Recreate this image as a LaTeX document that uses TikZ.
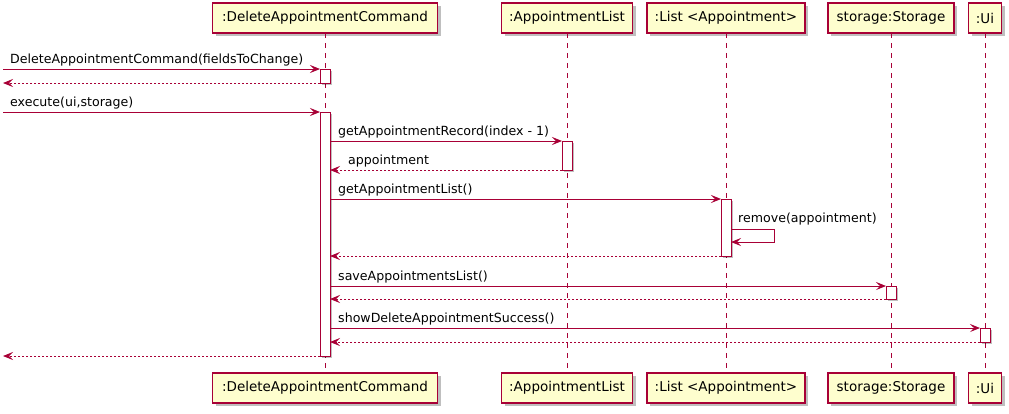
\documentclass[tikz,border=0pt]{standalone}
\usepackage{fontspec}
\setmainfont{DejaVu Sans}
\usetikzlibrary{arrows.meta,shadows}
\definecolor{umlred}{HTML}{A80036}
\definecolor{umlfill}{HTML}{FEFECE}
\begin{document}
\begin{tikzpicture}[x=1pt,y=-1pt,
 part/.style={draw=umlred,fill=umlfill,line width=1.2pt,minimum height=30pt,inner sep=0pt,outer sep=0pt,
   font=\fontsize{13.5}{16}\selectfont,
   drop shadow={shadow xshift=3pt,shadow yshift=-3pt,opacity=0.25,fill=black}},
 act/.style={draw=umlred,fill=white,line width=1pt,minimum width=10pt,inner sep=0pt,outer sep=0pt,
   drop shadow={shadow xshift=2pt,shadow yshift=-2pt,opacity=0.25,fill=black}},
 lifeline/.style={draw=umlred,line width=0.8pt,dash pattern=on 5pt off 5pt},
 msg/.style={draw=umlred,line width=0.9pt,-{Stealth[length=10pt,width=8pt,inset=4pt]}},
 ret/.style={msg,dash pattern=on 2pt off 2pt},
 lbl/.style={anchor=base west,inner sep=0pt,font=\fontsize{12.6}{15}\selectfont}]
\useasboundingbox (0,0) rectangle (1009,413);

% participants top
\node[part,minimum width=225pt] (p1) at (325,18) {:DeleteAppointmentCommand};
\node[part,minimum width=131pt] (p2) at (567,18) {:AppointmentList};
\node[part,minimum width=158pt] (p3) at (726,18) {:List <Appointment>};
\node[part,minimum width=126pt] (p4) at (891,18) {storage:Storage};
\node[part,minimum width=33pt]  (p5) at (985,18) {:Ui};
% participants bottom
\node[part,minimum width=225pt] (q1) at (325,388) {:DeleteAppointmentCommand};
\node[part,minimum width=131pt] (q2) at (567,388) {:AppointmentList};
\node[part,minimum width=158pt] (q3) at (726,388) {:List <Appointment>};
\node[part,minimum width=126pt] (q4) at (891,388) {storage:Storage};
\node[part,minimum width=33pt]  (q5) at (985,388) {:Ui};
% lifelines
\foreach \i in {1,...,5} \draw[lifeline] (p\i.south) -- (q\i.north);

% activations
\node[act,minimum height=14pt]  (a1) at (325,76) {};
\node[act,minimum height=244pt] (a2) at (325,234) {};
\node[act,minimum height=29pt]  (a3) at (567,155.5) {};
\node[act,minimum height=57pt]  (a4) at (726,227.5) {};
\node[act,minimum height=13pt]  (a5) at (891,292.5) {};
\node[act,minimum height=14pt]  (a6) at (985,335) {};

% free ends on the left
\coordinate (L1) at (3,69);
\coordinate (L2) at (3,83);
\coordinate (L3) at (3,112);
\coordinate (L4) at (3,356);
% self-message levels
\coordinate (y1) at (0,229);
\coordinate (y2) at (0,242);
\coordinate (sr) at (774,0);

% messages
\draw[msg] (L1) -- (a1.north west);
\node[lbl] at (10,63) {DeleteAppointmentCommand(fieldsToChange)};
\draw[ret] (a1.south west) -- (L2);
\draw[msg] (L3) -- (a2.north west);
\node[lbl] at (10,106) {execute(ui,storage)};

\draw[msg] (a2.east |- a3.north) -- (a3.north west);
\node[lbl] at (338,135) {getAppointmentRecord(index - 1)};
\draw[ret] (a3.south west) -- (a2.east |- a3.south);
\node[lbl] at (348,164) {appointment};

\draw[msg] (a2.east |- a4.north) -- (a4.north west);
\node[lbl] at (338,193) {getAppointmentList()};
\draw[msg] (a4.east |- y1) -- (sr |- y1) -- (sr |- y2) -- (a4.east |- y2);
\node[lbl] at (738,222) {remove(appointment)};
\draw[ret] (a4.south west) -- (a2.east |- a4.south);

\draw[msg] (a2.east |- a5.north) -- (a5.north west);
\node[lbl] at (338,280) {saveAppointmentsList()};
\draw[ret] (a5.south west) -- (a2.east |- a5.south);

\draw[msg] (a2.east |- a6.north) -- (a6.north west);
\node[lbl] at (338,322) {showDeleteAppointmentSuccess()};
\draw[ret] (a6.south west) -- (a2.east |- a6.south);

\draw[ret] (a2.south west) -- (L4);
\end{tikzpicture}
\end{document}
